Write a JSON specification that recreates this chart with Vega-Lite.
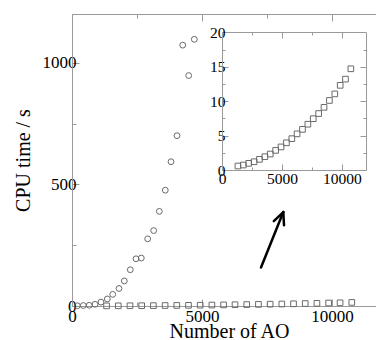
{
  "$schema": "https://vega.github.io/schema/vega-lite/v6.json",
  "width": 304,
  "height": 292,
  "autosize": {"type": "none"},
  "padding": {"left": 72, "top": 14, "right": 0, "bottom": 34},
  "background": "white",
  "config": {
    "view": {"stroke": null},
    "axis": {
      "grid": false,
      "domainColor": "#9a9a9a",
      "tickColor": "#9a9a9a",
      "labelColor": "#000000",
      "titleColor": "#000000",
      "labelFont": "Liberation Serif",
      "titleFont": "Liberation Serif",
      "titleFontWeight": "normal",
      "labelFontSize": 17,
      "titleFontSize": 20,
      "labelOverlap": false,
      "labelFlush": false
    }
  },
  "datasets": {
    "circles": [
      {"x": 205, "y": 1}, {"x": 435, "y": 2}, {"x": 665, "y": 3}, {"x": 885, "y": 7},
      {"x": 1115, "y": 16}, {"x": 1358, "y": 29}, {"x": 1565, "y": 48}, {"x": 1808, "y": 72},
      {"x": 2012, "y": 103}, {"x": 2242, "y": 149}, {"x": 2462, "y": 194}, {"x": 2665, "y": 197},
      {"x": 2911, "y": 276}, {"x": 3142, "y": 310}, {"x": 3358, "y": 389}, {"x": 3588, "y": 476},
      {"x": 3808, "y": 593}, {"x": 4038, "y": 700}, {"x": 4258, "y": 1072}, {"x": 4488, "y": 947},
      {"x": 4704, "y": 1096}
    ],
    "squares": [
      {"x": 1330, "y": 0.58}, {"x": 1780, "y": 0.72}, {"x": 2230, "y": 0.97}, {"x": 2680, "y": 1.2},
      {"x": 3130, "y": 1.55}, {"x": 3580, "y": 1.93}, {"x": 4030, "y": 2.32}, {"x": 4480, "y": 2.85},
      {"x": 4930, "y": 3.35}, {"x": 5380, "y": 3.95}, {"x": 5830, "y": 4.55}, {"x": 6270, "y": 5.25},
      {"x": 6720, "y": 5.9}, {"x": 7170, "y": 6.65}, {"x": 7620, "y": 7.45}, {"x": 8070, "y": 8.2},
      {"x": 8520, "y": 9.1}, {"x": 8970, "y": 10.1}, {"x": 9420, "y": 11.05}, {"x": 9870, "y": 12.3},
      {"x": 10310, "y": 13.2}, {"x": 10760, "y": 14.7}
    ],
    "arrow": [
      {"x": 7269, "y": 158, "x2": 8127, "y2": 386},
      {"x": 8127, "y": 386, "x2": 7762, "y2": 349},
      {"x": 8127, "y": 386, "x2": 8154, "y2": 332}
    ]
  },
  "layer": [
    {
      "layer": [
        {
          "data": {"name": "circles"},
          "mark": {"type": "point", "shape": "circle", "filled": false, "stroke": "#6a6a6a", "strokeWidth": 1, "size": 34, "opacity": 1},
          "encoding": {
            "x": {
              "field": "x", "type": "quantitative",
              "scale": {"domain": [0, 11692], "nice": false, "zero": false},
              "axis": {
                "orient": "bottom",
                "values": [0, 2500, 5000, 7500, 10000],
                "format": "d",
                "labelExpr": "datum.value % 5000 === 0 ? datum.label : ''",
                "tickSize": {"condition": {"test": "datum.value % 5000 === 0", "value": -7}, "value": -4},
                "labelPadding": 9,
                "labelFontSize": 17,
                "title": "Number of AO",
                "titleFontSize": 20,
                "titleX": 157,
                "titleY": 15
              }
            },
            "y": {
              "field": "y", "type": "quantitative",
              "scale": {"domain": [0, 1200], "nice": false, "zero": false},
              "axis": {
                "orient": "left",
                "values": [0, 250, 500, 750, 1000],
                "format": "d",
                "labelExpr": "datum.value % 500 === 0 ? datum.label : ''",
                "tickSize": {"condition": {"test": "datum.value % 500 === 0", "value": -7}, "value": -4},
                "labelPadding": 3,
                "labelFontSize": 17,
                "title": "CPU time / s",
                "titleFontSize": 20,
                "titlePadding": 9
              }
            }
          }
        },
        {
          "data": {"name": "squares"},
          "mark": {"type": "point", "shape": "square", "filled": false, "stroke": "#6a6a6a", "strokeWidth": 1, "size": 32, "opacity": 1},
          "encoding": {
            "x": {"field": "x", "type": "quantitative"},
            "y": {"field": "y", "type": "quantitative"}
          }
        },
        {
          "data": {"name": "arrow"},
          "mark": {"type": "rule", "color": "#000000", "strokeWidth": 2.5, "strokeCap": "round"},
          "encoding": {
            "x": {"field": "x", "type": "quantitative"},
            "y": {"field": "y", "type": "quantitative"},
            "x2": {"field": "x2"},
            "y2": {"field": "y2"}
          }
        }
      ]
    },
    {
      "data": {"name": "squares"},
      "mark": {"type": "point", "opacity": 0},
      "encoding": {
        "x": {
          "field": "x", "type": "quantitative",
          "scale": {"domain": [0, 11692], "nice": false, "zero": false},
          "axis": {
            "orient": "top",
            "values": [0, 2500, 5000, 7500, 10000],
            "labels": false,
            "title": null,
            "tickSize": {"condition": {"test": "datum.value % 5000 === 0", "value": -7}, "value": -4}
          }
        },
        "y": {
          "field": "y", "type": "quantitative",
          "scale": {"domain": [0, 1200], "nice": false, "zero": false},
          "axis": null
        }
      }
    },
    {
      "data": {"name": "squares"},
      "mark": {"type": "point", "shape": "square", "filled": false, "stroke": "#6a6a6a", "strokeWidth": 1, "size": 32, "opacity": 1},
      "encoding": {
        "x": {
          "field": "x", "type": "quantitative",
          "scale": {"domain": [0, 12000], "range": [150, 293.7], "nice": false, "zero": false},
          "axis": {
            "orient": "bottom",
            "offset": -136,
            "values": [0, 2500, 5000, 7500, 10000],
            "format": "d",
            "labelExpr": "datum.value % 5000 === 0 ? datum.label : ''",
            "tickSize": {"condition": {"test": "datum.value % 5000 === 0", "value": -6}, "value": -3},
            "labelPadding": 7,
            "labelFontSize": 15.5,
            "title": null
          }
        },
        "y": {
          "field": "y", "type": "quantitative",
          "scale": {"domain": [0, 20], "range": [156, 18.3], "nice": false, "zero": false},
          "axis": {
            "orient": "left",
            "offset": -150,
            "values": [0, 2.5, 5, 7.5, 10, 12.5, 15, 17.5, 20],
            "labelExpr": "datum.value % 5 === 0 ? datum.label : ''",
            "tickSize": {"condition": {"test": "datum.value % 5 === 0", "value": -6}, "value": -3},
            "labelPadding": 3,
            "labelFontSize": 15.5,
            "title": null
          }
        }
      }
    },
    {
      "data": {"name": "squares"},
      "mark": {"type": "point", "opacity": 0},
      "encoding": {
        "x": {
          "field": "x", "type": "quantitative",
          "scale": {"domain": [0, 12000], "range": [150, 293.7], "nice": false, "zero": false},
          "axis": {
            "orient": "top",
            "offset": -18,
            "values": [0, 2500, 5000, 7500, 10000],
            "labels": false,
            "title": null,
            "tickSize": {"condition": {"test": "datum.value % 5000 === 0", "value": -6}, "value": -3}
          }
        },
        "y": {
          "field": "y", "type": "quantitative",
          "scale": {"domain": [0, 20], "range": [156, 18.3], "nice": false, "zero": false},
          "axis": {
            "orient": "right",
            "offset": -10,
            "values": [0, 2.5, 5, 7.5, 10, 12.5, 15, 17.5, 20],
            "labels": false,
            "title": null,
            "tickSize": {"condition": {"test": "datum.value % 5 === 0", "value": -6}, "value": -3}
          }
        }
      }
    }
  ],
  "resolve": {
    "scale": {"x": "independent", "y": "independent"},
    "axis": {"x": "independent", "y": "independent"}
  }
}
